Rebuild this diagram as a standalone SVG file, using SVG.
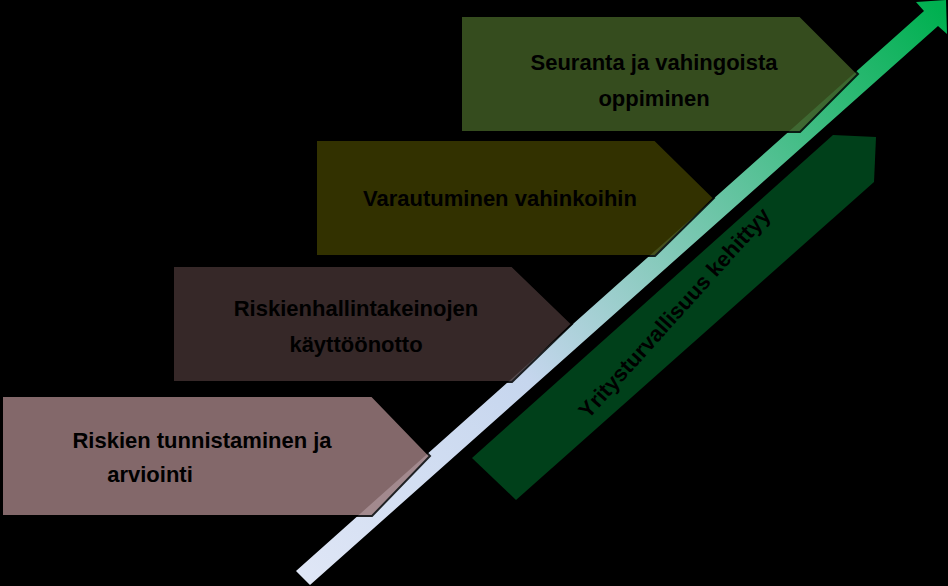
<svg xmlns="http://www.w3.org/2000/svg" width="948" height="586" viewBox="0 0 948 586">
<defs>
<linearGradient id="ag" gradientUnits="userSpaceOnUse" x1="303" y1="578" x2="940" y2="10">
<stop offset="0" stop-color="#dfe6f6"/><stop offset="0.35" stop-color="#c6d6ee"/><stop offset="0.7" stop-color="#5cc29a"/><stop offset="1" stop-color="#00b050"/>
</linearGradient>
<style>
.p{stroke:#000;stroke-width:2;opacity:0.85}
.t{font-family:"Liberation Sans",Arial,sans-serif;font-weight:bold;font-size:22px;fill:#000;text-anchor:middle}
</style>
</defs>
<rect width="948" height="586" fill="#000"/>
<g id="band">
<polygon points="472,458 833,135 876,137 874,182 516,500" fill="#00401a"/>
<text class="t" transform="translate(680,318) rotate(-48)" font-size="23">Yritysturvallisuus kehittyy</text>
</g>
<g id="connectors">
<polygon points="296,571 924,11 916,2 946,0 947,34 938,26 310,585" fill="url(#ag)"/>
</g>
<g id="n1"><polygon class="p" points="2,396 372,396 430,456 372,516 2,516" fill="#9a7b7d"/>
<text class="t" x="202" y="448">Riskien tunnistaminen ja</text><text class="t" x="150" y="482">arviointi</text></g>
<g id="n2"><polygon class="p" points="173,266 512,266 572,324 512,382 173,382" fill="#403030"/>
<text class="t" x="356" y="316">Riskienhallintakeinojen</text><text class="t" x="356" y="352">käyttöönotto</text></g>
<g id="n3"><polygon class="p" points="316,140 655,140 714,198 655,256 316,256" fill="#3b3a00"/>
<text class="t" x="500" y="206">Varautuminen vahinkoihin</text></g>
<g id="n4"><polygon class="p" points="461,16 800,16 858,74 800,132 461,132" fill="#3f5a24"/>
<text class="t" x="654" y="70">Seuranta ja vahingoista</text><text class="t" x="654" y="106">oppiminen</text></g>
</svg>
